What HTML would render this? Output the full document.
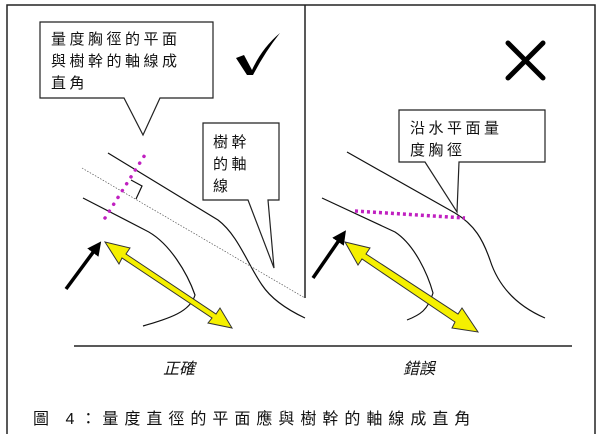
<!DOCTYPE html>
<html><head><meta charset="utf-8"><style>
html,body{margin:0;padding:0;background:#fff;width:600px;height:434px;overflow:hidden}
svg{display:block}
text{font-family:"Liberation Sans","Noto Sans CJK TC",sans-serif;fill:#111}
</style></head><body>
<svg width="600" height="434" viewBox="0 0 600 434" xmlns="http://www.w3.org/2000/svg">
<defs>
<marker id="ah" markerWidth="4" markerHeight="4" refX="2" refY="2" orient="auto"><path d="M0,0 L4,2 L0,4 z" fill="#000"/></marker>
</defs>
<rect x="7" y="5" width="588" height="440" fill="none" stroke="#222" stroke-width="1.5"/>
<line x1="305" y1="5" x2="305" y2="298" stroke="#222" stroke-width="1.5"/>
<line x1="74" y1="346" x2="572" y2="346" stroke="#222" stroke-width="1.5"/>

<path d="M236,58 L244,55 L252,70 Q262,48 280,33 Q265,52 253,75 L247,75 Z" fill="#000"/>
<path d="M508,43 L543,78 M543,43 L508,78" stroke="#000" stroke-width="5" stroke-linecap="round"/>

<path d="M40,22 H213 V98 H160 L143,135 L124,98 H40 Z" fill="#fff" stroke="#222" stroke-width="1.2"/>
<text font-size="15" letter-spacing="3.5"><tspan x="51" y="44">量度胸徑的平面</tspan><tspan x="51" y="66">與樹幹的軸線成</tspan><tspan x="51" y="88">直角</tspan></text>
<path d="M203,123 H279 V200 H268 L274,268 L248,200 H203 Z" fill="#fff" stroke="#222" stroke-width="1.2"/>
<text font-size="15" letter-spacing="3.5"><tspan x="213" y="147">樹幹</tspan><tspan x="213" y="169">的軸</tspan><tspan x="213" y="191">線</tspan></text>

<path d="M108,153 L218,220 C238,235 248,265 262,285 C272,300 288,310 305,318" fill="none" stroke="#111" stroke-width="1.2"/>
<path d="M83,198 L145,230 C170,242 188,275 195,295 C190,312 170,318 143,326" fill="none" stroke="#111" stroke-width="1.2"/>
<line x1="82" y1="168" x2="305" y2="298" stroke="#555" stroke-width="0.7" stroke-dasharray="1.5,1.5"/>
<path d="M131,180 L142,186 L136,199" fill="none" stroke="#111" stroke-width="1.2"/>
<line x1="105" y1="218" x2="148" y2="150" stroke="#c020c0" stroke-width="3.5" stroke-dasharray="0.1,8" stroke-linecap="round"/>
<line x1="66" y1="289" x2="97" y2="247" stroke="#000" stroke-width="3.5" marker-end="url(#ah)"/>
<path d="M105,242 L130,248 L126,254 L216,314 L220,308 L232,328 L208,323 L212,318 L122,258 L119,264 Z" fill="#f5f000" stroke="#333" stroke-width="1"/>

<path d="M399,110 H545 V162 H459 L457,212 L425,162 H399 Z" fill="#fff" stroke="#222" stroke-width="1.2"/>
<text font-size="15" letter-spacing="3.5"><tspan x="410" y="133">沿水平面量</tspan><tspan x="410" y="155">度胸徑</tspan></text>

<path d="M347,152 L455,213 C475,225 483,240 490,260 C498,285 515,305 545,318" fill="none" stroke="#111" stroke-width="1.2"/>
<path d="M322,198 L395,232 C415,245 428,275 433,293 C428,310 420,315 407,320" fill="none" stroke="#111" stroke-width="1.2"/>
<line x1="355" y1="211" x2="465" y2="218" stroke="#c020c0" stroke-width="3.5" stroke-dasharray="3,3"/>
<line x1="313" y1="278" x2="342" y2="236" stroke="#000" stroke-width="3.5" marker-end="url(#ah)"/>
<path d="M345,242 L370,248 L366,254 L458,314 L462,308 L478,332 L452,328 L455,322 L362,259 L358,265 Z" fill="#f5f000" stroke="#333" stroke-width="1"/>

<text x="179" y="374" font-size="16" font-style="italic" text-anchor="middle">正確</text>
<text x="419" y="374" font-size="16" font-style="italic" text-anchor="middle">錯誤</text>
<text x="33" y="424" font-size="16" letter-spacing="6" fill="#000">圖 4：量度直徑的平面應與樹幹的軸線成直角</text>
</svg>
</body></html>
